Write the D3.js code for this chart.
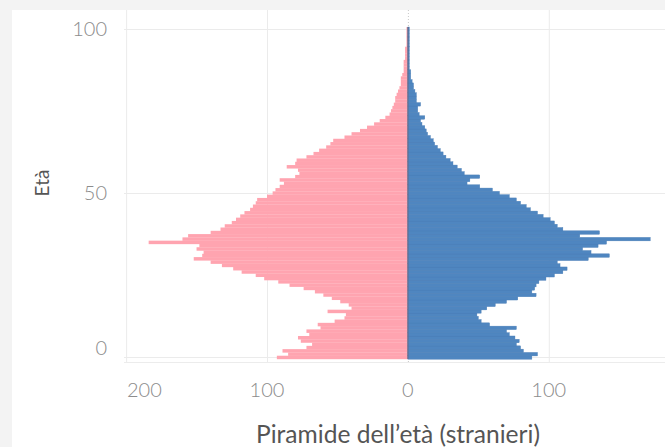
<!DOCTYPE html>
<html>
<head>
<meta charset="utf-8">
<script src="https://cdn.jsdelivr.net/npm/d3@7"></script>
<style>
  html, body { margin: 0; padding: 0; background: #ffffff; }
  svg { display: block; }
</style>
</head>
<body>
<svg id="chart" width="665" height="447"></svg>
<script>
// ---- data ----
const ages = d3.range(0, 101);
const female = [
  93, 85, 89, 72, 68, 76, 78, 70, 72, 62,
  64, 52, 45, 44, 57, 40, 42, 48, 54, 60,
  66, 74, 84, 92, 102, 108, 118, 124, 132, 140,
  152, 146, 145, 150, 148, 184, 160, 156, 140, 133,
  130, 125, 122, 119, 116, 112, 110, 108, 107, 100,
  96, 94, 91, 88, 91, 80, 77, 78, 86, 80,
  79, 72, 67, 63, 58, 55, 53, 45, 40, 34,
  29, 24, 20, 16, 13, 12, 11, 10, 9, 9,
  8, 7, 6, 5, 5, 5, 4, 3, 3, 3,
  3, 2, 2, 2, 2, 1, 1, 1, 1, 1, 1
];
const male = [
  88, 92, 82, 80, 77, 79, 76, 72, 70, 77,
  58, 52, 50, 49, 52, 56, 62, 70, 78, 91,
  88, 90, 91, 93, 98, 104, 110, 113, 108, 106,
  128, 143, 130, 124, 135, 141, 172, 122, 136, 110,
  106, 104, 101, 96, 92, 87, 84, 80, 77, 72,
  65, 60, 51, 42, 44, 51, 40, 38, 35, 32,
  30, 27, 25, 23, 21, 19, 18, 16, 14, 13,
  12, 10, 9, 12, 8, 7, 7, 9, 6, 6,
  6, 5, 4, 4, 3, 2, 2, 2, 1, 1,
  1, 1, 1, 1, 1, 1, 1, 1, 1, 1, 1
];
const xTicks = [-200, -100, 0, 100];
const yTicks = [0, 50, 100];
const xTitle = "Piramide dell\u2019età (stranieri)";
const yTitle = "Età";

// ---- layout ----
const svg = d3.select("#chart");
const pane = { left: 124, right: 665, top: 10, bottom: 362 };

const x = d3.scaleLinear().domain([-201.5, 182.5]).range([pane.left, pane.right]);
const y = d3.scaleLinear().domain([-0.5, 100.5]).range([359, 27]);

// background strips
svg.append("rect").attr("x", 0).attr("y", 0).attr("width", 665).attr("height", 10).attr("fill", "#f3f3f3");
svg.append("rect").attr("x", 0).attr("y", 0).attr("width", 12).attr("height", 447).attr("fill", "#f3f3f3");

// gridlines
const grid = svg.append("g");
grid.selectAll("line.v").data(xTicks).join("line")
  .attr("x1", d => x(d) + 0.5).attr("x2", d => x(d) + 0.5)
  .attr("y1", pane.top).attr("y2", pane.bottom)
  .attr("stroke-width", 1)
  .attr("stroke-dasharray", d => d === 0 ? "1,2" : null)
  .attr("stroke", d => d === 0 ? "#c8c8c8" : "#ebebeb");
grid.selectAll("line.h").data(yTicks).join("line")
  .attr("x1", pane.left).attr("x2", pane.right)
  .attr("y1", d => Math.round(y(d)) + 0.5).attr("y2", d => Math.round(y(d)) + 0.5)
  .attr("stroke", "#ebebeb").attr("stroke-width", 1);
grid.append("line")
  .attr("x1", pane.left).attr("x2", pane.right)
  .attr("y1", pane.bottom + 0.5).attr("y2", pane.bottom + 0.5)
  .attr("stroke", "#ececec");

// bars
const bh = Math.abs(y(0.5) - y(-0.5));
const bars = svg.append("g");
bars.selectAll("rect.f").data(ages).join("rect")
  .attr("x", a => x(-female[a]))
  .attr("y", a => y(a + 0.5))
  .attr("width", a => x(0) - x(-female[a]))
  .attr("height", bh + 0.2)
  .attr("fill", "#ffa4b0");
bars.selectAll("rect.m").data(ages).join("rect")
  .attr("x", x(0))
  .attr("y", a => y(a + 0.5))
  .attr("width", a => x(male[a]) - x(0))
  .attr("height", bh + 0.2)
  .attr("fill", "#4f86c0")
  .attr("stroke", "#4a7db5").attr("stroke-width", 0.4);

// zero line over bars
svg.append("line")
  .attr("x1", x(0)).attr("x2", x(0))
  .attr("y1", y(100.5)).attr("y2", y(-0.5))
  .attr("stroke", "#6a6782").attr("stroke-width", 1.2).attr("opacity", 0.8);

const font = "Lato, 'Open Sans', 'Noto Sans', sans-serif";

// x axis labels
const xl = svg.append("g").selectAll("text").data(xTicks).join("text")
  .attr("x", d => x(d)).attr("y", 397)
  .attr("text-anchor", "middle")
  .attr("font-family", font).attr("font-size", 20).attr("font-weight", 300)
  .attr("fill", "#8c8c8c")
  .text(d => Math.abs(d));
xl.each(function(d) {
  const w = this.getComputedTextLength();
  const cx = x(d);
  if (cx - w / 2 < pane.left + 3) {
    d3.select(this).attr("text-anchor", "start").attr("x", pane.left + 3);
  }
});

// y axis labels
svg.append("g").selectAll("text").data(yTicks).join("text")
  .attr("x", 107)
  .attr("y", d => Math.min(y(d), 348))
  .attr("dy", "0.35em")
  .attr("text-anchor", "end")
  .attr("font-family", font).attr("font-size", 20).attr("font-weight", 300)
  .attr("fill", "#8c8c8c")
  .text(d => d);

// axis titles
const xt = svg.append("text")
  .attr("x", 398).attr("y", 443)
  .attr("text-anchor", "middle")
  .attr("font-family", font).attr("font-size", 20).attr("font-weight", 400)
  .attr("fill", "#555555")
  .text(xTitle);
(function() {
  const w = xt.node().getComputedTextLength();
  const target = 284;
  xt.attr("font-size", 20 * target / w);
})();

svg.append("text")
  .attr("transform", "translate(49,183) rotate(-90)")
  .attr("text-anchor", "middle")
  .attr("font-family", font).attr("font-size", 19).attr("font-weight", 400)
  .attr("fill", "#555555")
  .text(yTitle);
</script>
</body>
</html>
